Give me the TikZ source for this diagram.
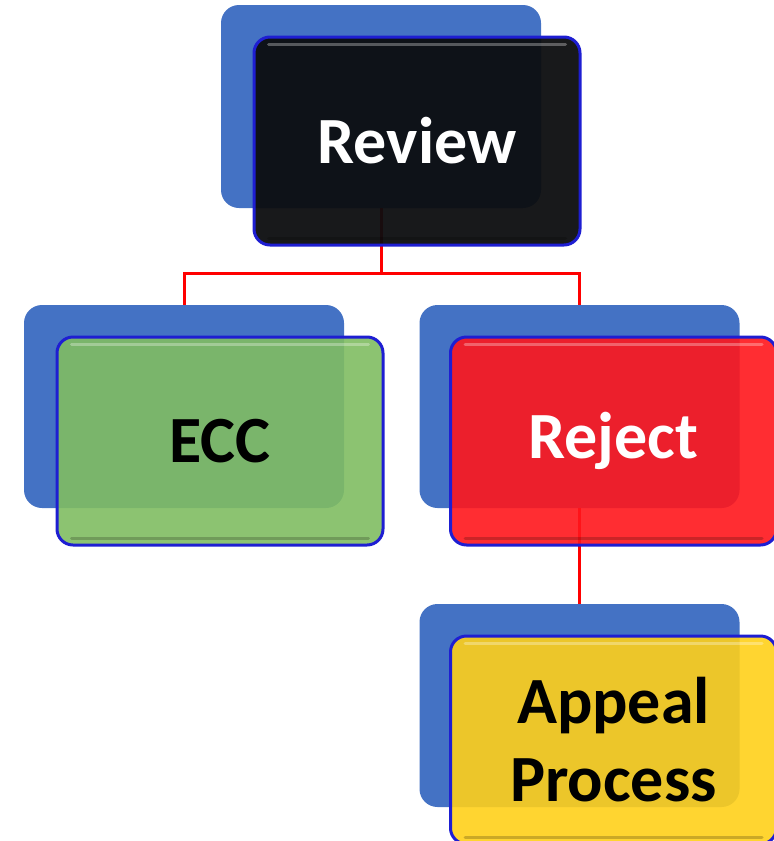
\documentclass[tikz,border=0pt]{standalone}
\usepackage{fontspec}
\setmainfont{Carlito}
\usetikzlibrary{positioning}

\definecolor{backblue}{RGB}{68,114,196}
\definecolor{rimblue}{RGB}{30,30,210}
\definecolor{reviewfill}{RGB}{12,13,15}
\definecolor{eccfill}{RGB}{128,189,98}
\definecolor{rejectfill}{RGB}{255,22,28}
\definecolor{appealfill}{RGB}{255,208,26}

\begin{document}
\begin{tikzpicture}[x=1pt, y=-1pt,
    back/.style={rounded corners=18pt, fill=backblue, inner sep=0pt,
        minimum width=320pt, minimum height=203pt},
    front/.style={rounded corners=16pt, draw=rimblue, line width=3pt,
        fill opacity=0.9, text opacity=1, inner sep=0pt, align=center,
        minimum width=326pt, minimum height=208pt,
        font=\fontsize{66}{78}\selectfont\bfseries},
    link/.style={red, line width=3pt},
    shine/.style={white, opacity=0.3, line width=3pt, line cap=round},
    shade/.style={black, opacity=0.2, line width=3pt, line cap=round}]

    % Page frame
    \useasboundingbox (0,0) rectangle (774,841);
    \clip (0,0) rectangle (774,841);

    % Blue back plates
    \node[back] (review) at (381,106.5) {};
    \node[back] (ecc)    at (184,406.5) {};
    \node[back] (reject) at (579.5,406.5) {};
    \node[back] (appeal) at (579.5,705.5) {};

    % Red connectors
    \coordinate (split) at (review.south |- 0,273);
    \draw[link] (review.south) -- (split);
    \draw[link] (ecc.north) |- (split) -| (reject.north);
    \draw[link] (reject.south) -- (appeal.north);

    % Front boxes
    \node[front, fill=reviewfill, fill opacity=0.95, text=white] (reviewF) at ([shift={(36,34.5)}]review) {Review};
    \node[front, fill=eccfill, text=black]    (eccF)    at ([shift={(36,34.5)}]ecc) {ECC};
    \node[front, fill=rejectfill, text=white] (rejectF) at ([shift={(34,34.5)}]reject) {Reject};
    \node[front, fill=appealfill, text=black] (appealF) at ([shift={(34,34.5)}]appeal) {Appeal\\Process};

    % Gloss on the front boxes
    \foreach \n in {reviewF, eccF, rejectF, appealF} {
        \draw[shine] ([shift={(16,9)}]\n.north west) -- ([shift={(-16,9)}]\n.north east);
        \draw[shade] ([shift={(16,-8)}]\n.south west) -- ([shift={(-16,-8)}]\n.south east);
    }
\end{tikzpicture}
\end{document}
